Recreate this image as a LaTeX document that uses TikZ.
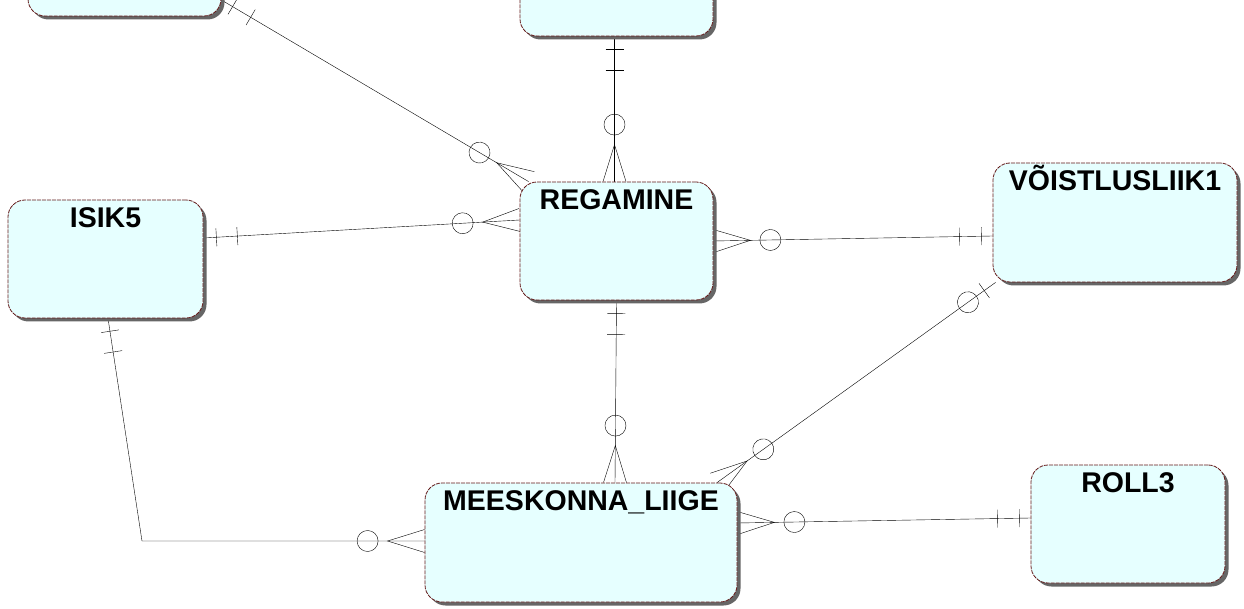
\documentclass[tikz,border=0pt]{standalone}
\usepackage{fontspec}
\setmainfont{Liberation Sans}
\usetikzlibrary{shadows,decorations.markings,backgrounds}
\definecolor{kastitaust}{RGB}{230,255,255}
\definecolor{kastiserv}{RGB}{100,25,25}
\tikzset{
  olem/.style={draw=kastiserv, fill=kastitaust, line width=0.8pt, dash pattern=on 4pt off 1pt,
    rounded corners=17pt, minimum width=193pt, minimum height=118pt, inner sep=0pt,
    drop shadow={shadow xshift=3.5pt, shadow yshift=-3.5pt, fill=black!60, opacity=1}},
  pealkiri/.style={anchor=north, inner sep=0pt, text height=21pt, yshift=-6.5pt,
    font=\bfseries\fontsize{28.5}{30}\selectfont, text=black},
  yks algus/.style={postaction={decorate,decoration={markings,
    mark=at position 13pt with {\draw (0pt,-9pt) -- (0pt,9pt);},
    mark=at position 34pt with {\draw (0pt,-9pt) -- (0pt,9pt);}}}},
  yks lopp/.style={postaction={decorate,decoration={markings,
    mark=at position -11pt with {\draw (0pt,-9pt) -- (0pt,9pt);},
    mark=at position -33pt with {\draw (0pt,-9pt) -- (0pt,9pt);}}}},
  mitu algus/.style={postaction={decorate,decoration={markings,
    mark=at position 37pt with {\draw (-37pt,11.5pt) -- (0pt,0pt) -- (-37pt,-11.5pt);},
    mark=at position 57pt with {\draw (0pt,0pt) circle (10.5pt);}}}},
  mitu lopp/.style={postaction={decorate,decoration={markings,
    mark=at position -37pt with {\draw (37pt,11.5pt) -- (0pt,0pt) -- (37pt,-11.5pt);},
    mark=at position -57pt with {\draw (0pt,0pt) circle (10.5pt);}}}},
  voib lopp/.style={postaction={decorate,decoration={markings,
    mark=at position -14pt with {\draw (0pt,-9pt) -- (0pt,9pt);},
    mark=at position -34pt with {\draw (0pt,0pt) circle (10.5pt);}}}}
}
\begin{document}
\begin{tikzpicture}[x=1pt,y=-1pt]
  \useasboundingbox (0,0) rectangle (1244,609);
  % olemid
  \node[olem] (ylem1) at (124.5,-43) {};
  \node[olem] (ylem2) at (616.5,-23) {};
  \node[olem, label={[pealkiri]north:REGAMINE}] (regamine) at (616.5,241) {};
  \node[olem, minimum width=195pt, label={[pealkiri]north:ISIK5}] (isik) at (105.5,259) {};
  \node[olem, minimum width=244pt, minimum height=119pt, label={[pealkiri]north:VÕISTLUSLIIK1}] (voistlus) at (1115,222.5) {};
  \node[olem, minimum width=312pt, minimum height=119pt, label={[pealkiri]north:MEESKONNA\_LIIGE}] (liige) at (581,542.5) {};
  \node[olem, minimum width=194pt, label={[pealkiri]north:ROLL3}] (roll) at (1128,524) {};
  \coordinate (nurk) at (142,541);
  % seosed
  \begin{scope}[on background layer, line width=1pt]
    \draw[yks algus, mitu lopp] ([yshift=-43pt]ylem1.east) -- ([xshift=9pt]regamine.north west);
    \draw[yks algus, mitu lopp] ([xshift=-2pt]ylem2.south) -- ([xshift=-2pt]regamine.north);
    \draw[yks algus, mitu lopp] ([yshift=21pt]isik.east) -- ([yshift=21pt]regamine.west);
    \draw[mitu algus, yks lopp] (regamine.east) -- ([yshift=-13.5pt]voistlus.west);
    \draw[yks algus, mitu lopp] (regamine.south) -- ([xshift=34pt]liige.north);
    \draw[mitu algus, voib lopp] ([xshift=136pt]liige.north) -- ([xshift=3pt]voistlus.south west);
    \draw[mitu algus, yks lopp] ([yshift=19.5pt]liige.east) -- ([yshift=6pt]roll.west);
    \draw[yks algus, mitu lopp] ([xshift=2.5pt]isik.south) -- (nurk) -- ([yshift=1.5pt]liige.west);
  \end{scope}
\end{tikzpicture}
\end{document}
